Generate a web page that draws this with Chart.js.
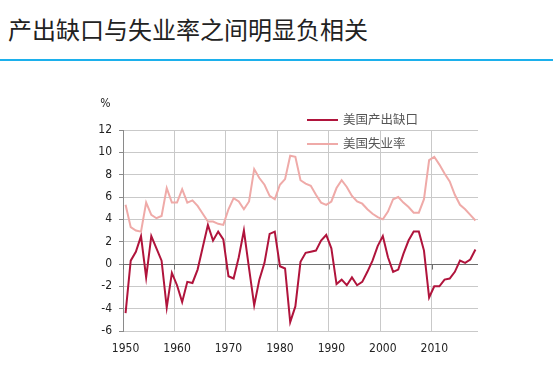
<!DOCTYPE html>
<html>
<head>
<meta charset="utf-8">
<script src="https://cdn.jsdelivr.net/npm/chart.js@4.4.1/dist/chart.umd.min.js"></script>
<style>
body{margin:0;width:553px;height:374px;background:#fff;position:relative;overflow:hidden}
#title{position:absolute;left:8px;top:17px;font:24px/24px "Noto Sans CJK SC",sans-serif;color:#222;white-space:nowrap}
#rule{position:absolute;left:0;top:59px;width:553px;height:2px;background:#1cb0ec}
#wrap{position:absolute;left:0;top:0;width:553px;height:374px}
.leg{position:absolute;left:307px;font:12.5px/16px "Noto Sans CJK SC",sans-serif;color:#555;white-space:nowrap}
.leg i{display:inline-block;width:31px;height:2px;vertical-align:middle;margin-right:5px;position:relative;top:-1px}
</style>
</head>
<body>
<div id="title">产出缺口与失业率之间明显负相关</div>
<div id="rule"></div>
<div id="wrap"><canvas id="gapChart" width="553" height="374"></canvas></div>
<div class="leg" style="top:111px"><i style="background:#b0143c"></i>美国产出缺口</div>
<div class="leg" style="top:135px"><i style="background:#efaaa8"></i>美国失业率</div>
<script>
const years = [1950,1951,1952,1953,1954,1955,1956,1957,1958,1959,
	1960,1961,1962,1963,1964,1965,1966,1967,1968,1969,
	1970,1971,1972,1973,1974,1975,1976,1977,1978,1979,
	1980,1981,1982,1983,1984,1985,1986,1987,1988,1989,
	1990,1991,1992,1993,1994,1995,1996,1997,1998,1999,
	2000,2001,2002,2003,2004,2005,2006,2007,2008,2009,
	2010,2011,2012,2013,2014,2015,2016,2017,2018];

// 美国产出缺口 (%)
const outputGap = [-4.4,0.3,1.1,2.5,-1.2,2.5,1.4,0.3,-3.9,-0.8,
	-1.9,-3.4,-1.6,-1.7,-0.5,1.5,3.5,2.1,2.9,2.2,
	-1.1,-1.3,0.6,3.0,-0.4,-3.7,-1.4,0.1,2.7,2.9,
	-0.2,-0.4,-5.2,-3.8,0.2,1.0,1.1,1.2,2.1,2.6,
	1.4,-1.8,-1.4,-1.9,-1.2,-1.9,-1.6,-0.7,0.3,1.6,
	2.5,0.6,-0.7,-0.5,0.9,2.1,2.9,2.9,1.2,-3.0,
	-2.0,-2.0,-1.4,-1.3,-0.7,0.3,0.1,0.4,1.3];

// 美国失业率 (%)
const unemployment = [5.3,3.3,3.0,2.9,5.5,4.4,4.1,4.3,6.8,5.5,
	5.5,6.7,5.5,5.7,5.2,4.5,3.8,3.8,3.6,3.5,
	4.9,5.9,5.6,4.9,5.6,8.5,7.7,7.1,6.1,5.8,
	7.1,7.6,9.7,9.6,7.5,7.2,7.0,6.2,5.5,5.3,
	5.6,6.8,7.5,6.9,6.1,5.6,5.4,4.9,4.5,4.2,
	4.0,4.7,5.8,6.0,5.5,5.1,4.6,4.6,5.8,9.3,
	9.6,8.9,8.1,7.4,6.2,5.3,4.9,4.4,3.9];

const yTicks = [-6,-4,-2,0,2,4,6,8,10,12];
const xLabels = [1950,1960,1970,1980,1990,2000,2010];

const tickFont = {family: '"DejaVu Sans Condensed", "DejaVu Sans", sans-serif', size: 12};

// zero axis line, its tick marks and the "%" unit
const extras = {
	id: 'extras',
	beforeDatasetsDraw(chart) {
		const {ctx, chartArea, scales} = chart;
		const y0 = Math.round(scales.y.getPixelForValue(0)) + 0.5;
		const step = chartArea.width / years.length;
		ctx.save();
		ctx.strokeStyle = '#6e6e6e';
		ctx.lineWidth = 1;
		ctx.beginPath();
		ctx.moveTo(chartArea.left, y0);
		ctx.lineTo(chartArea.right, y0);
		years.forEach((yr, i) => {
			if (xLabels.includes(yr)) {
				const x = Math.round(chartArea.left + i * step) + 0.5;
				ctx.moveTo(x, y0);
				ctx.lineTo(x, y0 + 5);
			}
		});
		ctx.stroke();
		ctx.fillStyle = '#222';
		ctx.font = '12px "DejaVu Sans Condensed", "DejaVu Sans", sans-serif';
		ctx.textAlign = 'center';
		ctx.textBaseline = 'middle';
		ctx.fillText('%', 105.5, 104);
		ctx.restore();
	}
};

const data = {
	labels: years,
	datasets: [{
		label: '美国失业率',
		data: unemployment,
		borderColor: '#efaaa8',
		borderWidth: 2,
		pointRadius: 0,
		tension: 0
	}, {
		label: '美国产出缺口',
		data: outputGap,
		borderColor: '#b0143c',
		borderWidth: 2,
		pointRadius: 0,
		tension: 0
	}]
};

const config = {
	type: 'line',
	data: data,
	options: {
		responsive: false,
		animation: false,
		layout: {padding: {left: 0, right: 75, top: 130, bottom: 0}},
		plugins: {legend: {display: false}, tooltip: {enabled: false}},
		scales: {
			x: {
				type: 'category',
				offset: true,
				border: {display: false},
				grid: {
					offset: true,
					drawTicks: false,
					color: ctx => (ctx.index < years.length && xLabels.includes(years[ctx.index])) ? '#c9c9c9' : 'rgba(0,0,0,0)',
					borderDash: [1, 2]
				},
				ticks: {
					autoSkip: false,
					maxRotation: 0,
					padding: 11,
					color: '#222',
					font: tickFont,
					callback: function(val, i) {
						return xLabels.includes(years[i]) ? String(years[i]) : '';
					}
				},
				afterFit: s => { s.height = 43; }
			},
			y: {
				min: -6,
				max: 12,
				border: {display: true, color: '#8a8a8a', width: 1},
				grid: {
					color: '#c9c9c9',
					borderDash: [1, 2],
					tickLength: 4,
					tickColor: '#8a8a8a',
					tickBorderDash: []
				},
				afterBuildTicks: s => { s.ticks = yTicks.map(v => ({value: v})); },
				ticks: {
					padding: 7,
					color: '#222',
					font: tickFont
				},
				afterFit: s => { s.width = 123; }
			}
		}
	},
	plugins: [extras]
};

const ctx = document.getElementById('gapChart').getContext('2d');
new Chart(ctx, config);
</script>
</body>
</html>
